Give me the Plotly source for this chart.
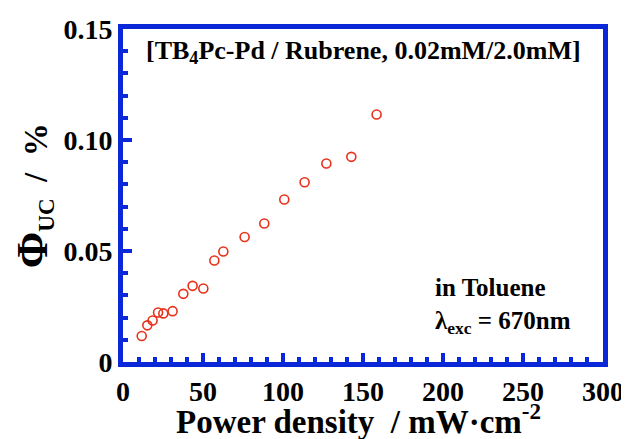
import plotly.graph_objects as go

power = [11.7, 15.2, 18.5, 21.9, 25.2, 31.0, 37.7, 43.5, 50.2, 57.1, 62.7, 76.0,
         88.3, 100.8, 113.5, 127.1, 142.7, 158.5]
phi_uc = [0.0117, 0.0165, 0.0187, 0.0223, 0.0219, 0.0229, 0.0307, 0.0343, 0.0331,
          0.0457, 0.0498, 0.0563, 0.0624, 0.0732, 0.0810, 0.0894, 0.0924, 0.1115]

x_ticks = [0, 50, 100, 150, 200, 250, 300]
y_ticks = [0, 0.05, 0.10, 0.15]
y_labels = ["0", "0.05", "0.10", "0.15"]

x_title = "<b>Power density  / mW·cm<sup>-2</sup></b>"
y_title = "<b><span style='font-size:44px'>Φ</span><sub>UC</sub>  /  %</b>"

BLUE = "#0a28d8"
RED = "#e8301a"
FONT = "Liberation Serif"

fig = go.Figure()
fig.add_trace(go.Scatter(
    x=power, y=phi_uc, mode="markers",
    marker=dict(symbol="circle-open", size=9, color=RED, line=dict(width=1.6, color=RED)),
    showlegend=False,
))

axis_common = dict(
    showline=True, linecolor=BLUE, linewidth=5, mirror=True,
    ticks="inside", tickcolor=BLUE, tickwidth=4,
    showgrid=False, zeroline=False, automargin=False,
    tickfont=dict(family=FONT, size=28, color="black", weight="bold"),
)

fig.update_xaxes(
    range=[0, 300], tickvals=x_ticks, ticktext=[str(v) for v in x_ticks], ticklen=9,
    minor=dict(dtick=10, tick0=0, ticks="inside", ticklen=5, tickwidth=4, tickcolor=BLUE),
    **axis_common,
)
fig.update_yaxes(
    range=[0, 0.15], tickvals=y_ticks, ticktext=y_labels, ticklen=9,
    minor=dict(dtick=0.01, tick0=0, ticks="inside", ticklen=5, tickwidth=4, tickcolor=BLUE),
    **axis_common,
)

# axis titles
fig.add_annotation(
    x=0.49, y=-0.17, xref="paper", yref="paper", xanchor="center", yanchor="middle",
    text=x_title, showarrow=False, font=dict(family=FONT, size=33, color="black"),
)
fig.add_annotation(
    x=-0.186, y=0.50, xref="paper", yref="paper", xanchor="center", yanchor="middle",
    text=y_title, showarrow=False, textangle=-90,
    font=dict(family=FONT, size=33, color="black"),
)

fig.add_annotation(
    x=0.5, y=0.985, xref="paper", yref="paper", xanchor="center", yanchor="top",
    text="<b>[TB<sub>4</sub>Pc-Pd / Rubrene, 0.02mM/2.0mM]</b>", showarrow=False,
    font=dict(family=FONT, size=26, color="black"),
)
fig.add_annotation(
    x=0.645, y=0.27, xref="paper", yref="paper", xanchor="left", yanchor="top",
    text="<b>in Toluene</b><br><b>λ<sub>exc</sub> = 670nm</b>", showarrow=False, align="left",
    font=dict(family=FONT, size=25, color="black"),
)

fig.update_layout(
    width=621, height=431,
    margin=dict(l=115, r=26, t=21, b=77),
    paper_bgcolor="white", plot_bgcolor="white",
)

fig.write_html("out.html")
